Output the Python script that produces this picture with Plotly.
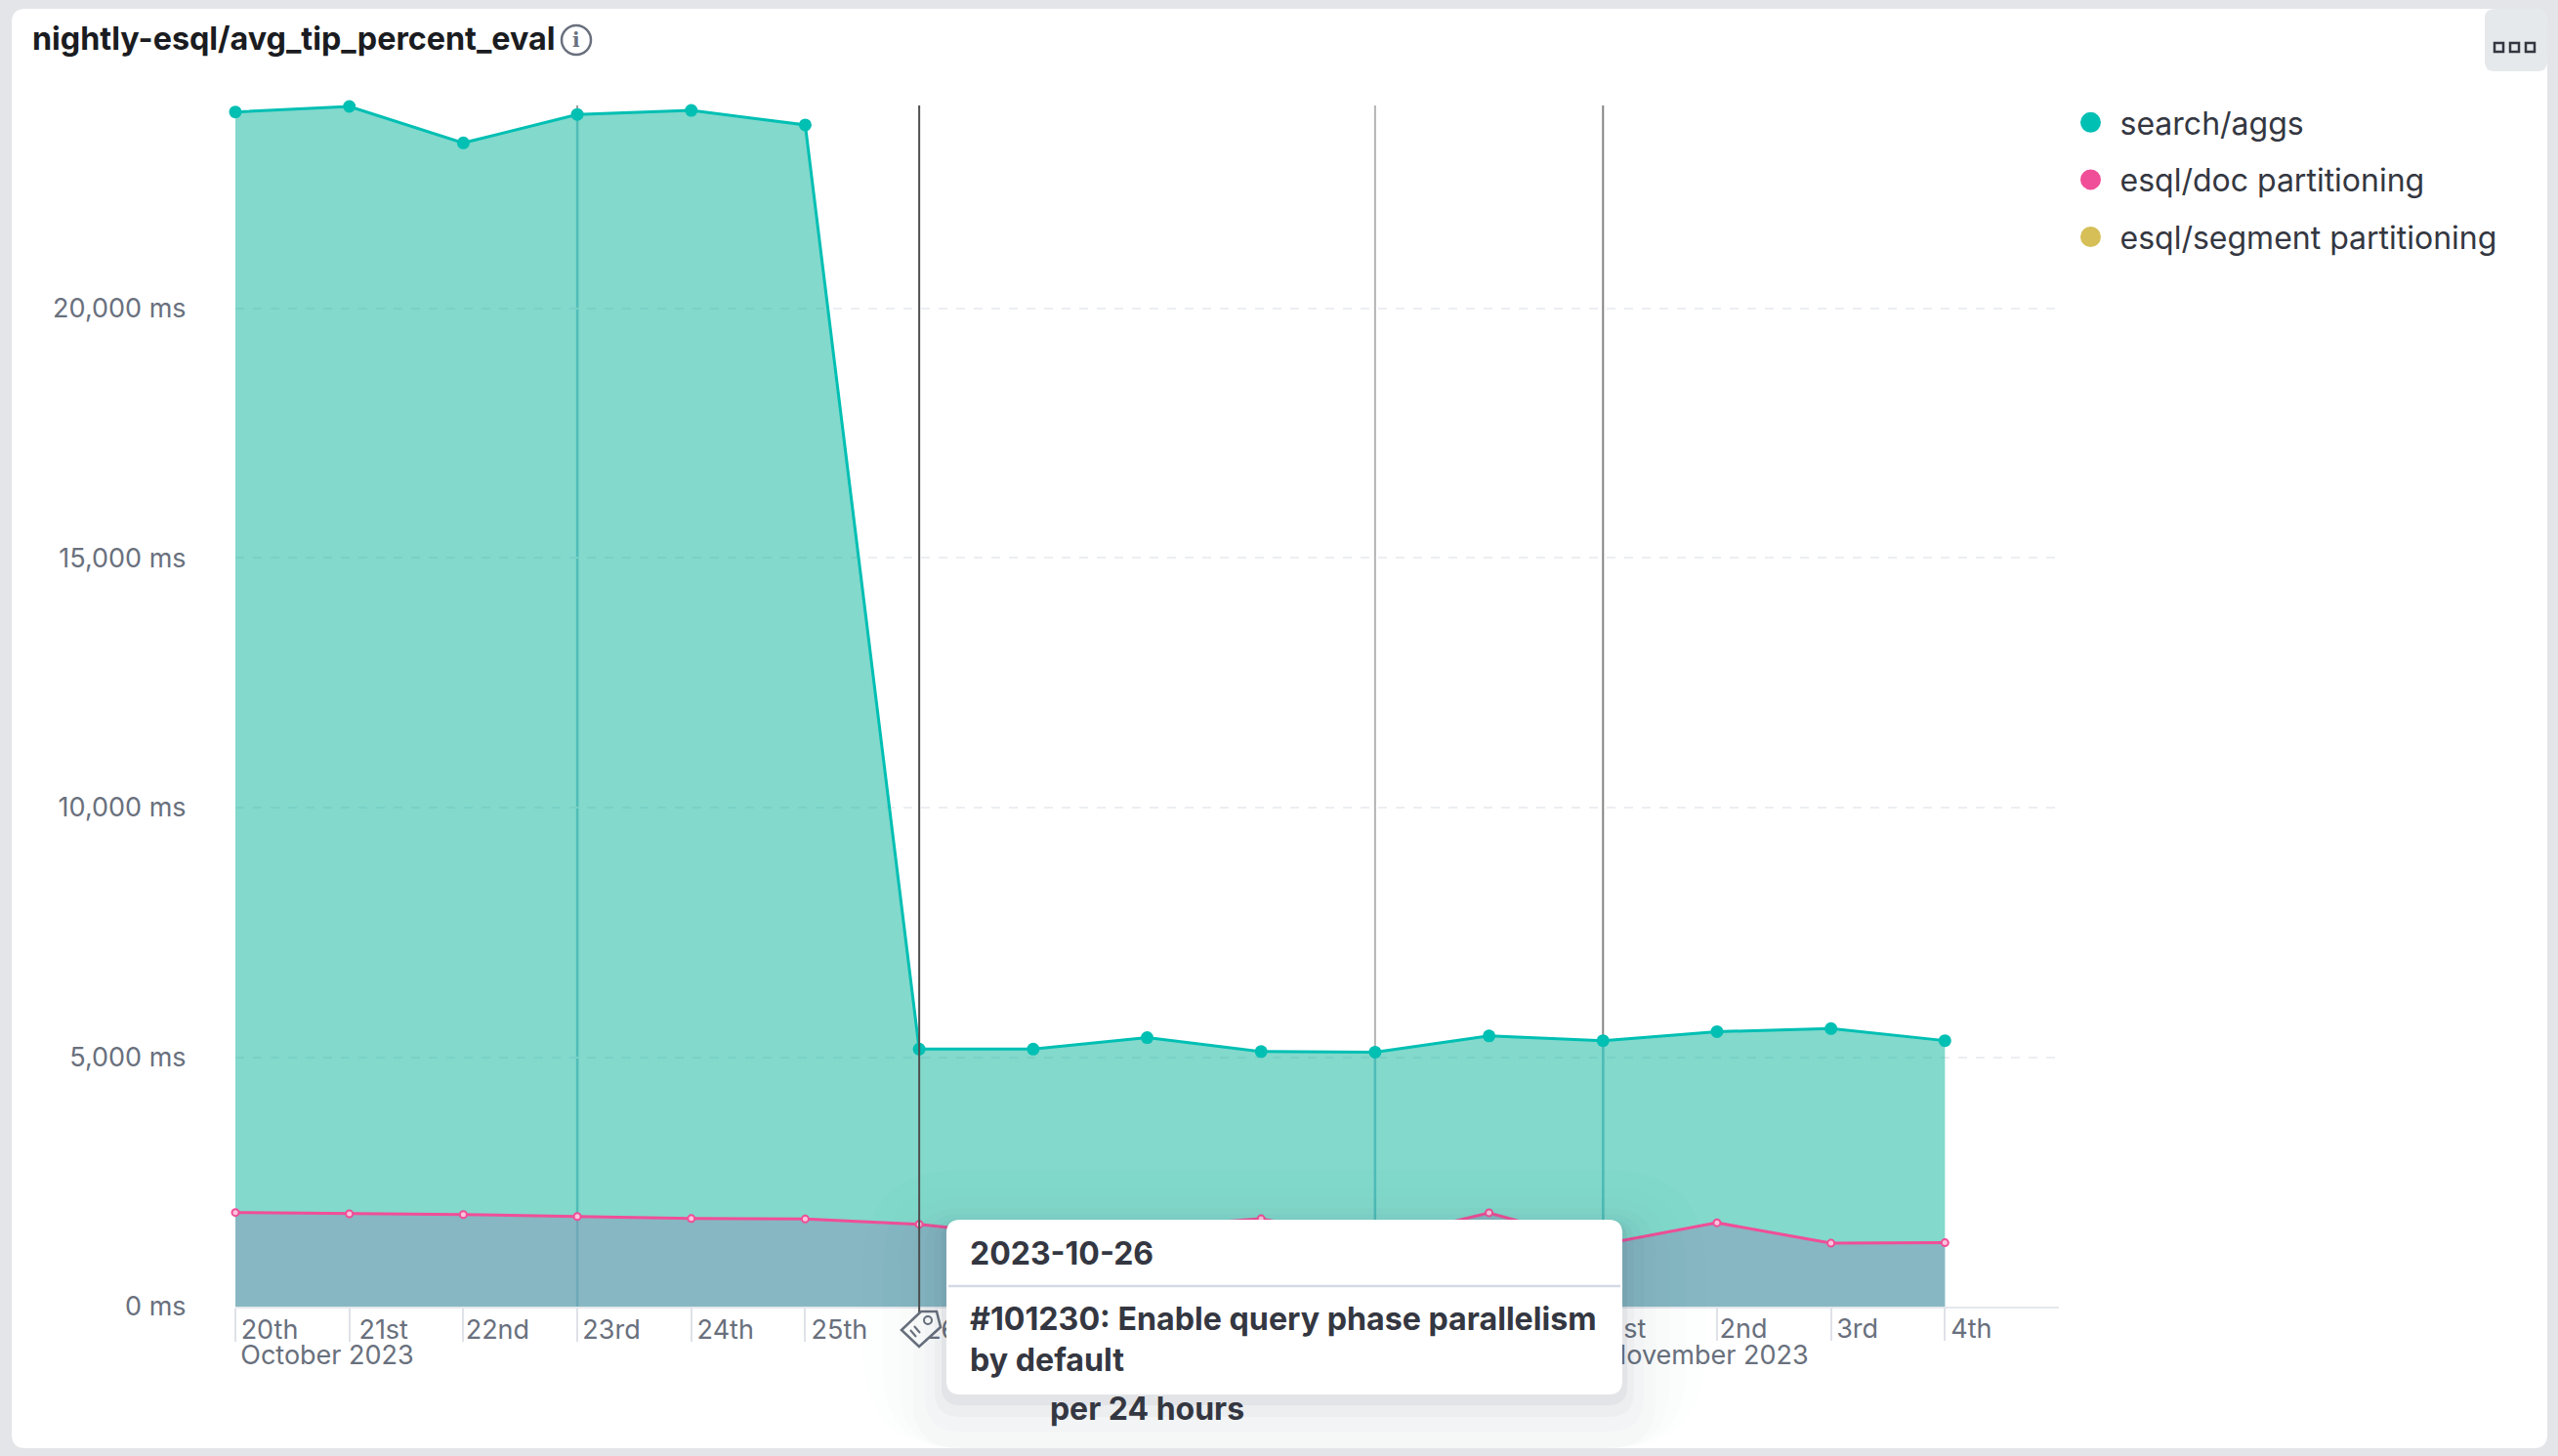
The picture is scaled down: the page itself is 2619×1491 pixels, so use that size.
import plotly.graph_objects as go

W, H = 2619, 1491
FONT = "Inter"

# ---------- data ----------
dates = ["2023-10-20", "2023-10-21", "2023-10-22", "2023-10-23", "2023-10-24", "2023-10-25",
         "2023-10-26", "2023-10-27", "2023-10-28", "2023-10-29", "2023-10-30", "2023-10-31",
         "2023-11-01", "2023-11-02", "2023-11-03", "2023-11-04"]
search_aggs = [23940, 24050, 23320, 23890, 23970, 23680, 5160, 5160, 5390, 5110, 5100, 5425, 5330, 5510, 5570, 5330]
esql_doc = [1885, 1860, 1845, 1805, 1765, 1755, 1650, 1400, 1600, 1760, 1330, 1880, 1250, 1680, 1270, 1280]
series_names = ["search/aggs", "esql/doc partitioning", "esql/segment partitioning"]
series_colors = ["#00BFB3", "#F04E98", "#D6BF57"]
two_digit_days = dates[:12]
two_digit_labels = ["20th", "21st", "22nd", "23rd", "24th", "25th", "26th", "27th", "28th", "29th", "30th", "31st"]
one_digit_days = dates[12:]
one_digit_labels = ["1st", "2nd", "3rd", "4th"]
y_ticks = [0, 5000, 10000, 15000, 20000]
y_tick_labels = ["0 ms", "5,000 ms", "10,000 ms", "15,000 ms", "20,000 ms"]
annotation_dates = {"2023-10-23": "#9a9a9a", "2023-10-30": "#b4b4b4", "2023-11-01": "#858585"}
hovered_date = "2023-10-26"
tooltip_date = "2023-10-26"
tooltip_text = "#101230: Enable query phase parallelism<br>by default"
chart_title = "nightly-esql/avg_tip_percent_eval"
x_title = "per 24 hours"
x_range = ["2023-10-20", "2023-11-05"]
y_max = 24070


def px(x):
    return x / W


def py(y):
    return 1 - y / H


def rrect(x0, y0, x1, y1, r):
    X0, X1, Y0, Y1 = px(x0), px(x1), py(y0), py(y1)
    rx, ry = r / W, r / H
    return (f"M{X0+rx},{Y0} L{X1-rx},{Y0} Q{X1},{Y0} {X1},{Y0-ry} L{X1},{Y1+ry} Q{X1},{Y1} {X1-rx},{Y1} "
            f"L{X0+rx},{Y1} Q{X0},{Y1} {X0},{Y1+ry} L{X0},{Y0-ry} Q{X0},{Y0} {X0+rx},{Y0} Z")


def poly(points):
    return "M" + " L".join(f"{px(a)},{py(b)}" for a, b in points) + " Z"


fig = go.Figure()

# series
fig.add_trace(go.Scatter(x=dates, y=search_aggs, mode="lines+markers", name=series_names[0], showlegend=False,
                         fill="tozeroy", fillcolor="rgba(5,179,153,0.5)", cliponaxis=False,
                         line=dict(color=series_colors[0], width=3), marker=dict(color=series_colors[0], size=13)))
fig.add_trace(go.Scatter(x=dates, y=esql_doc, mode="lines+markers", name=series_names[1], showlegend=False,
                         fill="tozeroy", fillcolor="rgba(140,149,183,0.5)", cliponaxis=False,
                         line=dict(color=series_colors[1], width=3),
                         marker=dict(color="#f9c5dc", size=7, line=dict(color=series_colors[1], width=2))))

# legend entries
for i, (n, c) in enumerate(zip(series_names, series_colors)):
    fig.add_trace(go.Scatter(x=[None], y=[None], mode="markers", name=n, legendgroup=n,
                             marker=dict(color=c, size=16, line=dict(color=c, width=5))))

# overlay axes carry the extra tick label rows
for ax in ["x2", "x3", "x4"]:
    fig.add_trace(go.Scatter(x=[dates[0]], y=[0], xaxis=ax, mode="markers", marker=dict(opacity=0),
                             showlegend=False, hoverinfo="skip"))

domain = [px(241), px(2108)]
tick_font = dict(family=FONT, size=27, color="#69707d")
tick_common = dict(type="date", range=x_range, domain=domain, anchor="y", showgrid=False, zeroline=False,
                   tickfont=tick_font, tickmode="array", automargin=False)

fig.update_layout(
    width=W, height=H, margin=dict(l=0, r=0, t=0, b=0, pad=0),
    paper_bgcolor="#e3e5e9", plot_bgcolor="rgba(0,0,0,0)",
    font=dict(family=FONT),
    title=dict(text=f"<b>{chart_title}</b>", xref="container", yref="container", x=33 / W, xanchor="left",
               y=py(40), yanchor="middle", font=dict(family=FONT, size=32.3, color="#1a1c21")),
    xaxis=dict(tick_common, tickvals=two_digit_days, ticktext=two_digit_labels, ticks="outside", ticklen=34,
               tickwidth=2, tickcolor="#dfe2e8", showline=True, linecolor="#e4e7ec", linewidth=2,
               ticklabelshift=35, ticklabelstandoff=-35,
               title=dict(text=f"<b>{x_title}</b>", standoff=54, font=dict(family=FONT, size=32, color="#343741"))),
    xaxis2=dict(tick_common, overlaying="x", tickvals=one_digit_days, ticktext=one_digit_labels, ticks="outside",
                ticklen=34, tickwidth=2, tickcolor="#dfe2e8", ticklabelshift=27, ticklabelstandoff=-35),
    xaxis3=dict(tick_common, overlaying="x", tickvals=[dates[0]], ticktext=["October 2023"], ticks="",
                ticklabelshift=94, ticklabelstandoff=31),
    xaxis4=dict(tick_common, overlaying="x", tickvals=[dates[12]], ticktext=["November 2023"], ticks="",
                ticklabelshift=107, ticklabelstandoff=31),
    yaxis=dict(range=[0, y_max], domain=[py(1338), py(108)], tickmode="array", tickvals=y_ticks,
               ticktext=y_tick_labels, tickfont=tick_font, showline=False, zeroline=False, automargin=False,
               showgrid=True, gridcolor="#eceef2", griddash="dash", gridwidth=2, ticks="outside", ticklen=44,
               tickcolor="rgba(0,0,0,0)"),
    legend=dict(xref="paper", yref="paper", x=2110.5 / W, y=py(98), xanchor="left", yanchor="top",
                font=dict(family=FONT, size=32, color="#343741"), tracegroupgap=14, itemsizing="trace", itemwidth=50,
                bgcolor="rgba(0,0,0,0)", traceorder="grouped"),
    hovermode=False,
)

shapes = [
    # panel
    dict(type="path", path=rrect(12, 9, 2608, 1483, 14), xref="paper", yref="paper", layer="below",
         fillcolor="#ffffff", line=dict(width=0)),
    # menu button
    dict(type="path", path=rrect(2544, 9, 2608, 73, 10), xref="paper", yref="paper", layer="below",
         fillcolor="#e6e9eb", line=dict(width=0)),
]
for sx in (2554, 2570, 2586):
    shapes.append(dict(type="rect", xref="paper", yref="paper", x0=px(sx), x1=px(sx + 9), y0=py(53), y1=py(44),
                       fillcolor="rgba(0,0,0,0)", line=dict(color="#343741", width=2.5), layer="below"))
# info icon
shapes.append(dict(type="circle", xref="paper", yref="paper", x0=px(575), x1=px(605), y0=py(56), y1=py(26),
                   line=dict(color="#69707d", width=2.5), layer="below"))
# annotation lines: grey above the area, teal-tinted where the translucent fill covers them
for d, c in annotation_dates.items():
    top_of_area = search_aggs[dates.index(d)]
    shapes.append(dict(type="line", xref="x", yref="paper", x0=d, x1=d, y0=py(1338), y1=py(108),
                       line=dict(color=c, width=2), layer="below"))
    shapes.append(dict(type="line", xref="x", yref="y", x0=d, x1=d, y0=0, y1=top_of_area,
                       line=dict(color="#99c7d7", width=2.5), layer="below"))
shapes.append(dict(type="line", xref="x", yref="paper", x0=hovered_date, x1=hovered_date, y0=py(1365), y1=py(108),
                   line=dict(color="#4f4f4f", width=2), layer="above"))
# tag icon
shapes.append(dict(type="path", xref="paper", yref="paper",
                   path=poly([(923, 1362), (943, 1343), (959, 1343), (963, 1359), (941, 1379)]),
                   fillcolor="#ffffff", line=dict(color="#69707d", width=2.5), layer="above"))
shapes.append(dict(type="circle", xref="paper", yref="paper", x0=px(946), x1=px(954), y0=py(1356), y1=py(1348),
                   fillcolor="#ffffff", line=dict(color="#69707d", width=2), layer="above"))
for a, b in (((932, 1362), (938, 1369)), ((936, 1358), (942, 1365))):
    shapes.append(dict(type="line", xref="paper", yref="paper", x0=px(a[0]), y0=py(a[1]), x1=px(b[0]), y1=py(b[1]),
                       line=dict(color="#69707d", width=2), layer="above"))
# tooltip shadow
for grow, alpha, dy in ((85, 0.008, 34), (65, 0.009, 30), (48, 0.011, 26), (34, 0.014, 22), (22, 0.02, 16), (12, 0.03, 11), (5, 0.05, 6)):
    shapes.append(dict(type="path", xref="paper", yref="paper", layer="above",
                       path=rrect(969 - grow, 1249 - grow + dy, 1661 + grow, min(1428 + grow + dy, 1483), 14 + grow),
                       fillcolor=f"rgba(60,66,80,{alpha})", line=dict(width=0)))
# tooltip
shapes.append(dict(type="path", xref="paper", yref="paper", layer="above", path=rrect(969, 1249, 1661, 1428, 14),
                   fillcolor="#ffffff", line=dict(width=0)))
shapes.append(dict(type="line", xref="paper", yref="paper", layer="above", x0=px(971), x1=px(1659), y0=py(1317),
                   y1=py(1317), line=dict(color="#d3dae6", width=2.5)))
fig.update_layout(shapes=shapes)

fig.add_annotation(xref="paper", yref="paper", x=px(991), y=py(1283), xanchor="left", yanchor="middle",
                   text=f"<b>{tooltip_date}</b>", showarrow=False, font=dict(family=FONT, size=32, color="#343741"))
fig.add_annotation(xref="paper", yref="paper", x=px(991), y=py(1371), xanchor="left", yanchor="middle", align="left",
                   text=f"<b>{tooltip_text}</b>", showarrow=False, font=dict(family=FONT, size=32.2, color="#343741"))
fig.add_annotation(xref="paper", yref="paper", x=px(590), y=py(41), xanchor="center", yanchor="middle",
                   text="<b>i</b>", showarrow=False, font=dict(family="DejaVu Serif", size=20, color="#69707d"))

fig.write_html("out.html", config=dict(displayModeBar=False),
               post_script="document.body.style.margin='0';document.body.style.overflow='hidden';")
